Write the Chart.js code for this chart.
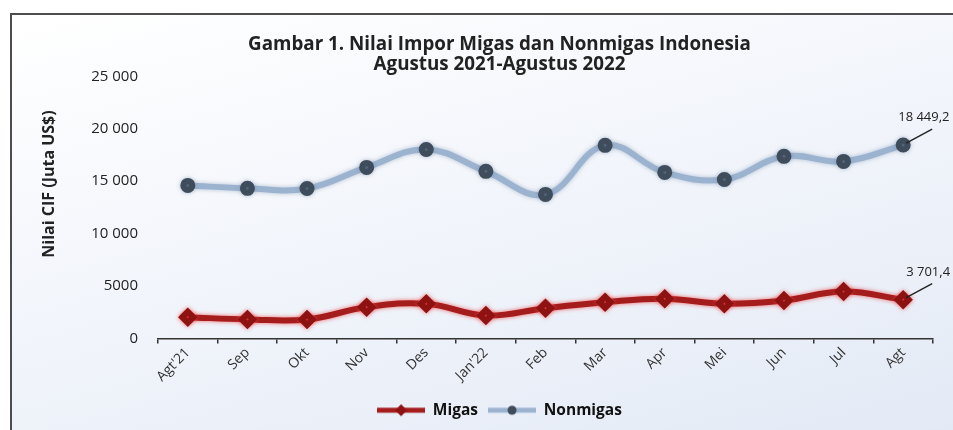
<!DOCTYPE html>
<html><head><meta charset="utf-8">
<script src="https://cdn.jsdelivr.net/npm/chart.js@4.4.0/dist/chart.umd.min.js"></script>
<style>
html,body{margin:0;padding:0;background:#fff;}
#wrap{position:relative;width:953px;height:430px;overflow:hidden;}
#frame{position:absolute;left:10px;top:13px;width:960px;height:440px;border:2px solid #4d4d4d;background:linear-gradient(165deg,#ffffff 0%,#f2f5fb 45%,#e2e9f5 100%);box-sizing:border-box;}
canvas{position:absolute;left:0;top:0;}
</style></head><body>
<div id="wrap"><div id="frame"></div><canvas id="c" width="953" height="430"></canvas></div>
<script>
const categories = ["Agt'21","Sep","Okt","Nov","Des","Jan'22","Feb","Mar","Apr","Mei","Jun","Jul","Agt"];
const migas = [2030,1820,1810,2990,3310,2190,2890,3460,3790,3310,3620,4480,3701];
const nonmigas = [14600,14320,14300,16320,18030,15940,13740,18420,15840,15170,17370,16890,18449];
const yTickLabels = {0:'0',5000:'5000',10000:'10 000',15000:'15 000',20000:'20 000',25000:'25 000'};
const yTitle = 'Nilai CIF (Juta US$)';
const endLabels = ['3 701,4','18 449,2'];

function legendImg(color, marker, mcolor){
  const c = document.createElement('canvas'); c.width = 48; c.height = 14;
  const g = c.getContext('2d');
  g.strokeStyle = color; g.lineWidth = 5; g.beginPath(); g.moveTo(0,7); g.lineTo(48,7); g.stroke();
  g.fillStyle = mcolor; g.beginPath();
  if (marker === 'diamond'){ g.moveTo(24,1); g.lineTo(30,7); g.lineTo(24,13); g.lineTo(18,7); g.closePath(); }
  else { g.arc(24,7,4.5,0,Math.PI*2); }
  g.fill();
  return c;
}
const legendImgs = [legendImg('#a51c1c','diamond','#8e1212'), legendImg('#9cb3d0','circle','#3f4c5c')];

const glowPlugin = {
  id:'glow',
  beforeDatasetDraw(chart,args){
    const ctx = chart.ctx; ctx.save();
    ctx.shadowColor = args.index === 0 ? 'rgba(235,70,70,0.8)' : 'rgba(110,135,170,0.5)';
    ctx.shadowBlur = 4;
  },
  afterDatasetDraw(chart){ chart.ctx.restore(); }
};
const textPlugin = {
  id:'texts',
  afterDraw(chart){
    const ctx = chart.ctx; const n = categories.length - 1;
    ctx.save();
    ctx.translate(49, 184); ctx.rotate(-Math.PI/2);
    ctx.fillStyle = '#222'; ctx.font = 'bold 16px "Open Sans"'; ctx.textAlign = 'center'; ctx.textBaseline = 'middle';
    ctx.fillText(yTitle, 0, 0);
    ctx.restore();
    ctx.save();
    const specs = [[0, 3, -27], [1, -5, -28]];
    specs.forEach(([di, dx, dy]) => {
      const p = chart.getDatasetMeta(di).data[n];
      ctx.strokeStyle = '#222'; ctx.lineWidth = 1.4;
      ctx.beginPath(); ctx.moveTo(p.x + 3, p.y - 2); ctx.lineTo(p.x + 29, p.y - 16); ctx.stroke();
      ctx.fillStyle = '#222'; ctx.font = '13px "Open Sans"'; ctx.textAlign = 'left'; ctx.textBaseline = 'middle';
      ctx.fillText(endLabels[di], p.x + dx, p.y + dy);
    });
    ctx.restore();
  }
};

new Chart(document.getElementById('c'), {
  type:'line',
  data:{labels:categories, datasets:[
    {label:'Migas', data:migas, borderColor:'#a51c1c', borderWidth:6, pointStyle:'rectRot', pointRadius:5.5, pointBackgroundColor:'#8e1212', pointBorderColor:'#8e1212', tension:0.4, fill:false},
    {label:'Nonmigas', data:nonmigas, borderColor:'#9cb3d0', borderWidth:6, pointStyle:'circle', pointRadius:4.5, pointBackgroundColor:'#3f4c5c', pointBorderColor:'#3f4c5c', tension:0.4, fill:false}
  ]},
  options:{
    responsive:false, animation:false, devicePixelRatio:1,
    layout:{padding:{left:66,right:20,top:13,bottom:2}},
    plugins:{
      title:{display:true, text:['Gambar 1. Nilai Impor Migas dan Nonmigas Indonesia','Agustus 2021-Agustus 2022'], font:{family:'Open Sans',size:18.8,weight:'bold',lineHeight:1.1}, color:'#222', padding:{top:21,bottom:1}},
      legend:{position:'bottom', labels:{usePointStyle:true, pointStyleWidth:48, boxHeight:14, padding:10, font:{family:'Open Sans',size:15.5,weight:'bold'}, color:'#111',
        generateLabels(chart){ const items = Chart.defaults.plugins.legend.labels.generateLabels(chart); items.forEach((it,i)=>{ it.pointStyle = legendImgs[i]; }); return items; }}},
      tooltip:{enabled:false}
    },
    scales:{
      x:{offset:true,
         grid:{display:true, drawOnChartArea:false, offset:true, tickLength:5, color:'#333', lineWidth:1.5},
         border:{display:true, color:'#333', width:1.5},
         ticks:{maxRotation:45, minRotation:45, autoSkip:false, padding:1, font:{family:'Open Sans',size:14}, color:'#333'},
         afterFit(s){ s.height = 54; }},
      y:{min:0, max:25000,
         ticks:{stepSize:5000, padding:20, font:{family:'Open Sans',size:15}, color:'#222', callback:v=>yTickLabels[v]},
         grid:{display:false, drawTicks:false}, border:{display:false},
         afterFit(s){ s.width = 92; }}
    }
  },
  plugins:[glowPlugin, textPlugin]
});
</script></body></html>
